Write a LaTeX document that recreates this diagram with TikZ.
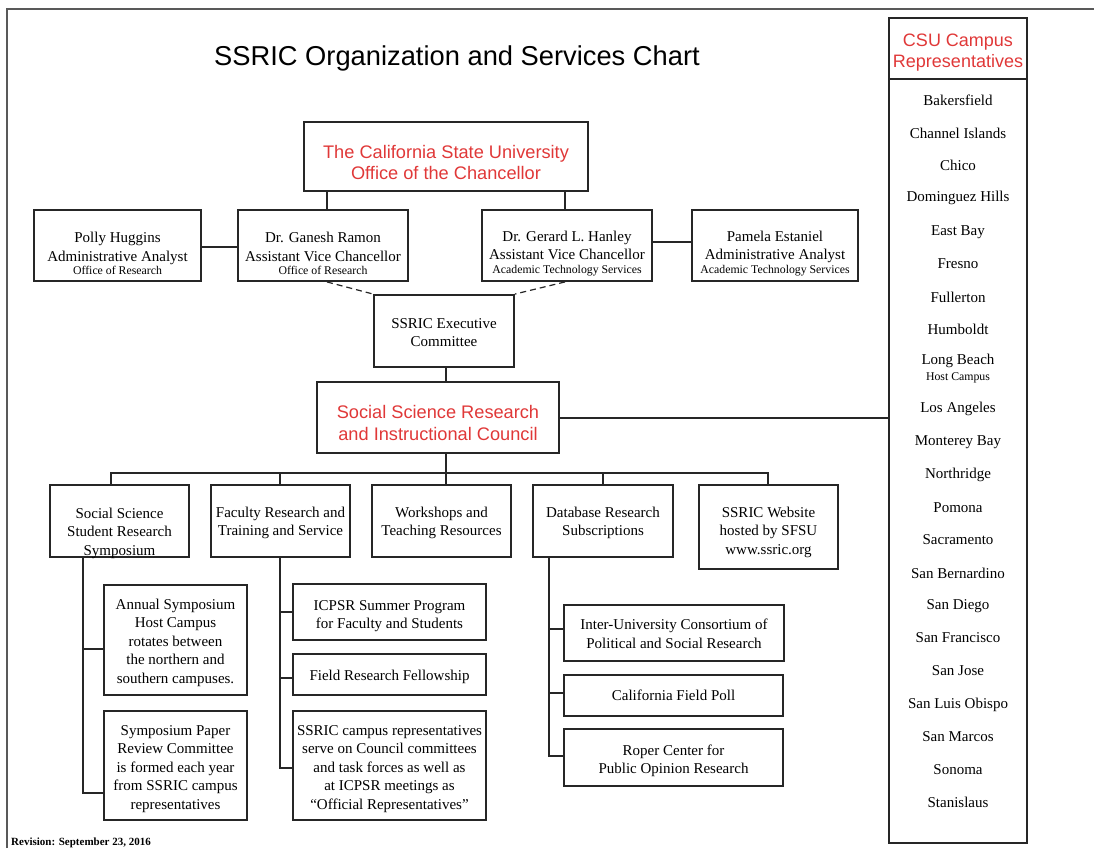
\documentclass[tikz,border=0pt]{standalone}
\usepackage{fontspec}
\setmainfont{Liberation Serif}
\newfontfamily\hdfont{Liberation Sans}
\definecolor{hdred}{RGB}{224,56,56}
\newcommand{\smalltxt}[1]{{\fontsize{11.8}{13}\selectfont #1}}
\begin{document}
\begin{tikzpicture}[x=1pt,y=-1pt,
  box/.style={draw=black!85, line width=1.9pt, inner sep=0pt},
  txt/.style={align=center, inner sep=0pt, font=\fontsize{15}{18.5}\selectfont},
  rtxt/.style={align=center, inner sep=0pt, text=hdred, font=\hdfont\fontsize{18.2}{21.5}\selectfont},
  conn/.style={draw=black!85, line width=1.6pt},
  dconn/.style={draw=black!85, line width=1.2pt, dash pattern=on 6pt off 4pt},
  item/.style={font=\fontsize{15}{17}\selectfont, inner sep=0pt}]
\useasboundingbox (0,0) rectangle (1094,848);
\draw[line width=1.6pt, black!65] (7,848) -- (7,9) -- (1094,9);

\node[font=\hdfont\fontsize{27.3}{32}\selectfont] (title) at (457,58) {SSRIC Organization and Services Chart};

% top level boxes
\node[box, minimum width=284pt, minimum height=69pt] (chan) at (446,156.5) {};
\node[rtxt] (chan-t) at ([yshift=-6pt]chan.center) {The California State University\\Office of the Chancellor};
\node[box, minimum width=167pt, minimum height=71pt] (polly) at (117.5,245.5) {};
\node[txt] (polly-t) at ([yshift=-8pt]polly.center)
  {Polly Huggins\\Administrative Analyst\\[-5pt]\smalltxt{Office of Research}};
\node[box, minimum width=170pt, minimum height=71pt] (ganesh) at (323,245.5) {};
\node[txt] (ganesh-t) at ([yshift=-8pt]ganesh.center)
  {Dr. Ganesh Ramon\\Assistant Vice Chancellor\\[-5pt]\smalltxt{Office of Research}};
\node[box, minimum width=170pt, minimum height=71pt] (gerard) at (567,245.5) {};
\node[txt] (gerard-t) at ([yshift=-8pt]gerard.center)
  {Dr. Gerard L. Hanley\\Assistant Vice Chancellor\\[-5pt]\smalltxt{Academic Technology Services}};
\node[box, minimum width=166pt, minimum height=71pt] (pamela) at (775,245.5) {};
\node[txt] (pamela-t) at ([yshift=-8pt]pamela.center)
  {Pamela Estaniel\\Administrative Analyst\\[-5pt]\smalltxt{Academic Technology Services}};
\node[box, minimum width=140pt, minimum height=72pt] (exec) at (444,331) {};
\node[txt] (exec-t) at ([yshift=-1.5pt]exec.center) {SSRIC Executive\\Committee};
\node[box, minimum width=242pt, minimum height=71pt] (council) at (438,417.5) {};
\node[rtxt] (council-t) at ([yshift=-5.5pt]council.center) {Social Science Research\\and Instructional Council};

% second level
\node[box, minimum width=139pt, minimum height=72pt] (sym) at (119.5,521) {};
\node[txt] (sym-t) at ([yshift=-12pt]sym.center) {Social Science\\Student Research\\Symposium};
\node[box, minimum width=139pt, minimum height=72pt] (fac) at (280.5,521) {};
\node[txt] (fac-t) at ([yshift=-2pt]fac.center) {Faculty Research and\\Training and Service};
\node[box, minimum width=139pt, minimum height=72pt] (work) at (441.5,521) {};
\node[txt] (work-t) at ([yshift=-2pt]work.center) {Workshops and\\Teaching Resources};
\node[box, minimum width=140pt, minimum height=72pt] (db) at (603,521) {};
\node[txt] (db-t) at ([yshift=-2pt]db.center) {Database Research\\Subscriptions};
\node[box, minimum width=139pt, minimum height=84pt] (web) at (768.5,527) {};
\node[txt] (web-t) at ([yshift=-5pt]web.center) {SSRIC Website\\hosted by SFSU\\www.ssric.org};

% third level
\node[box, minimum width=143pt, minimum height=110pt] (annual) at (175.5,640) {};
\node[txt] (annual-t) at ([yshift=-2.5pt]annual.center)
  {Annual Symposium\\Host Campus\\rotates between\\the northern and\\southern campuses.};
\node[box, minimum width=143pt, minimum height=109pt] (paper) at (175.5,765.5) {};
\node[txt] (paper-t) at ([yshift=-3.5pt]paper.center)
  {Symposium Paper\\Review Committee\\is formed each year\\from SSRIC campus\\representatives};
\node[box, minimum width=193pt, minimum height=56pt] (icpsr) at (389.5,612) {};
\node[txt] (icpsr-t) at ([yshift=-4pt]icpsr.center) {ICPSR Summer Program\\for Faculty and Students};
\node[box, minimum width=193pt, minimum height=41pt] (field) at (389.5,674.5) {};
\node[txt] (field-t) at ([yshift=-2.5pt]field.center) {Field Research Fellowship};
\node[box, minimum width=193pt, minimum height=109pt] (reps) at (389.5,765.5) {};
\node[txt] (reps-t) at ([yshift=-3.5pt]reps.center)
  {SSRIC campus representatives\\serve on Council committees\\and task forces as well as\\at ICPSR meetings as\\``Official Representatives''};
\node[box, minimum width=220pt, minimum height=56pt] (inter) at (674,633) {};
\node[txt] (inter-t) at ([yshift=-1pt]inter.center) {Inter-University Consortium of\\Political and Social Research};
\node[box, minimum width=219pt, minimum height=41pt] (poll) at (673.5,695.5) {};
\node[txt] (poll-t) at (poll.center) {California Field Poll};
\node[box, minimum width=219pt, minimum height=57pt] (roper) at (673.5,757.5) {};
\node[txt] (roper-t) at ([yshift=-3.5pt]roper.center) {Roper Center for\\Public Opinion Research};

% CSU column
\node[box, minimum width=138pt, minimum height=825pt] (csu) at (958,430.5) {};
\draw[box] ([yshift=-62pt]csu.north west) -- ([yshift=-62pt]csu.north east);
\node[rtxt, font=\hdfont\fontsize{18}{21}\selectfont] (csuhead) at (958,52.5)
  {CSU Campus\\Representatives};
\foreach \n/\yy in {Bakersfield/100, Channel Islands/133, Chico/165, Dominguez Hills/198,
  East Bay/232, Fresno/264, Fullerton/297, Humboldt/329, Long Beach/361,
  Los Angeles/409, Monterey Bay/442, Northridge/475, Pomona/508, Sacramento/540,
  San Bernardino/573, San Diego/606, San Francisco/638, San Jose/671,
  San Luis Obispo/705, San Marcos/737, Sonoma/770, Stanislaus/802}
  \node[item] (c-\yy) at (958,\yy) {\n};
\node[item, font=\fontsize{11.8}{13}\selectfont] (host) at (958,378) {Host Campus};

\node[anchor=west, inner sep=0pt, font=\bfseries\fontsize{11}{12}\selectfont] (rev) at (11,843)
  {Revision: September 23, 2016};

% connectors
\draw[conn] ([xshift=4pt]ganesh.north) -- ([xshift=4pt]ganesh.north |- chan.south);
\draw[conn] ([xshift=-2pt]gerard.north) -- ([xshift=-2pt]gerard.north |- chan.south);
\draw[conn] ([yshift=-1.5pt]polly.east) -- ([yshift=-1.5pt]ganesh.west);
\draw[conn] ([yshift=3.5pt]gerard.east) -- ([yshift=3.5pt]pamela.west);
\draw[dconn] ([xshift=4pt]ganesh.south) -- (exec.north west);
\draw[dconn] ([xshift=-2pt]gerard.south) -- (exec.north east);
\draw[conn] ([xshift=2pt]exec.south) -- ([xshift=2pt]exec.south |- council.north);
\draw[conn] ([yshift=-0.5pt]council.east) -- ([yshift=-0.5pt]council.east -| csu.west);

\coordinate (bus) at (446,473);
\draw[conn] (council.south -| bus) -- (bus);
\draw[conn] ([xshift=-8.5pt]sym.north) |- (bus) -| ([xshift=-0.5pt]web.north);
\draw[conn] ([xshift=-0.5pt]fac.north) -- ([xshift=-0.5pt]fac.north |- bus);
\draw[conn] ([xshift=4.5pt]work.north) -- ([xshift=4.5pt]work.north |- bus);
\draw[conn] (db.north) -- (db.north |- bus);

\coordinate (sx) at (83,0);
\coordinate (fx) at (280,0);
\coordinate (dx) at (549,0);
\draw[conn] (sym.south -| sx) |- ([yshift=-27.5pt]paper.west);
\draw[conn] ([yshift=-9pt]annual.west) -- +(-21,0);
\draw[conn] (fac.south -| fx) |- ([yshift=-2.5pt]reps.west);
\draw[conn] (icpsr.west) -- (icpsr.west -| fx);
\draw[conn] ([yshift=-3.5pt]field.west) -- +(-13,0);
\draw[conn] (db.south -| dx) |- ([yshift=1.5pt]roper.west);
\draw[conn] ([yshift=4pt]inter.west) -- +(-15,0);
\draw[conn] ([yshift=2.5pt]poll.west) -- +(-15,0);
\end{tikzpicture}
\end{document}
